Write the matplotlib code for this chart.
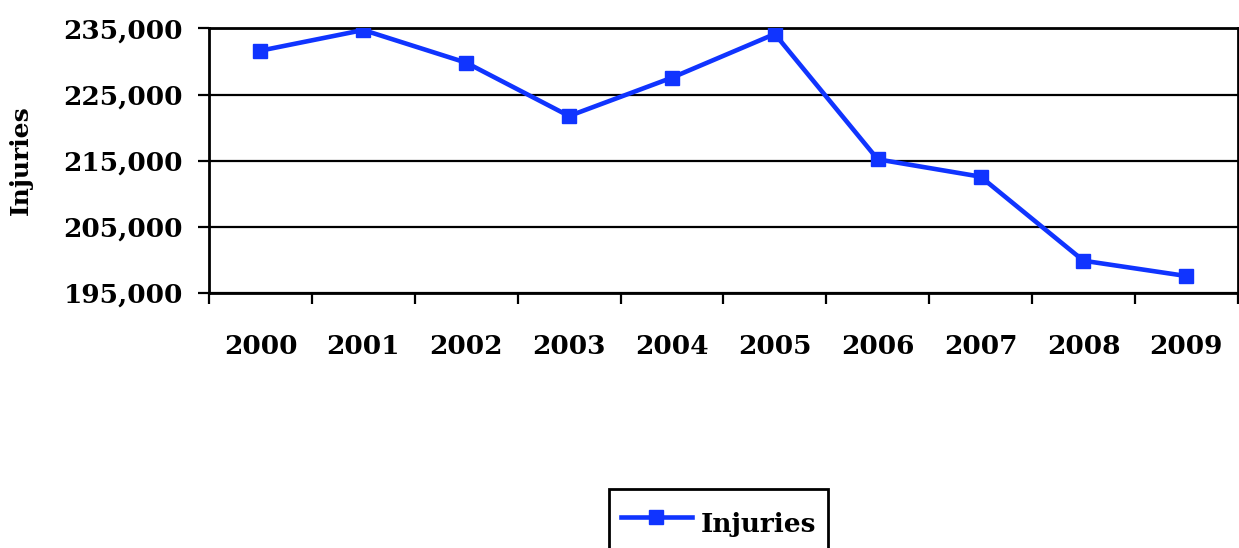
import matplotlib
matplotlib.use("Agg")
import matplotlib.pyplot as plt
from matplotlib.ticker import FuncFormatter, FixedLocator

years = ["2000", "2001", "2002", "2003", "2004", "2005", "2006", "2007", "2008", "2009"]
injuries = [231640, 234770, 229820, 221740, 227550, 234170, 215180, 212550, 199820, 197500]
yticks = [195000, 205000, 215000, 225000, 235000]

plt.rcParams['font.family'] = ['DejaVu Serif']
plt.rcParams['font.weight'] = 'bold'

fig = plt.figure(figsize=(12.39, 5.48), dpi=100)
ax = fig.add_axes([0.1687, 0.4662, 0.8303, 0.4818])

x = list(range(len(years)))
ax.plot(x, injuries, color="#1034FF", lw=3.3, marker="s", ms=10, label="Injuries", zorder=3)

ax.set_xlim(-0.5, len(years) - 0.5)
ax.set_ylim(yticks[0], yticks[-1])
ax.set_yticks(yticks)
ax.yaxis.set_major_formatter(FuncFormatter(lambda v, p: f"{int(v):,}"))
ax.grid(axis="y", color="black", lw=1.6)

ax.set_xticks(x)
ax.set_xticklabels(years)
ax.xaxis.set_minor_locator(FixedLocator([i - 0.5 for i in range(len(years) + 1)]))
ax.tick_params(axis="x", which="major", length=0, pad=30, labelsize=19)
ax.tick_params(axis="x", which="minor", length=8, width=1.6, direction="out")
ax.tick_params(axis="y", length=8, width=1.6, direction="out", pad=11, labelsize=19)

for s in ax.spines.values():
    s.set_linewidth(2)
    s.set_color("black")

ax.set_ylabel("Injuries", fontsize=18, fontweight="bold", labelpad=22)

leg = fig.legend(loc="lower center", bbox_to_anchor=(0.58, -0.02), fontsize=19,
                 frameon=True, fancybox=False, framealpha=1, handlelength=2.7,
                 handleheight=2.3, handletextpad=0.35, borderpad=0.45, borderaxespad=0)
leg.get_frame().set_edgecolor("black")
leg.get_frame().set_linewidth(2)

fig.savefig("out.png", dpi=100)
